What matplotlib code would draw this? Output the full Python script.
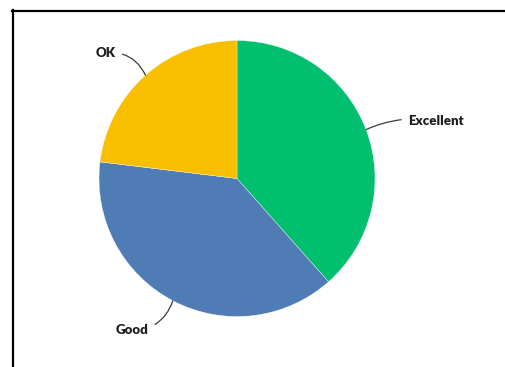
import matplotlib
matplotlib.use("Agg")
import matplotlib.pyplot as plt
from matplotlib.lines import Line2D
import numpy as np

# survey answers
labels = ["Excellent", "Good", "OK"]
counts = [5, 5, 3]
colors = ["#00BF6F", "#507CB6", "#F8BE00"]

W, H = 506, 367
fig = plt.figure(figsize=(W / 100, H / 100), dpi=100)

# pie axes: centre (237, 178.5) px, radius 138 px
cx, cy, r = 237, 178.5, 138
ax = fig.add_axes([(cx - r) / W, 1 - (cy + r) / H, 2 * r / W, 2 * r / H])
wedges, _ = ax.pie(counts, colors=colors, startangle=90, counterclock=False,
                   radius=1, wedgeprops=dict(edgecolor="white", linewidth=0.25))
ax.set_xlim(-1, 1)
ax.set_ylim(-1, 1)

# label position (text anchor), alignment, leader curvature
label_pos = {
    "Excellent": ((1.24, 0.42), "left", 0.15),
    "Good": ((-0.64, -1.10), "right", 0.35),
    "OK": ((-0.88, 0.91), "right", -0.35),
}

theta = 90.0
total = sum(counts)
for lab, c in zip(labels, counts):
    span = 360.0 * c / total
    mid = np.deg2rad(theta - span / 2)
    theta -= span
    edge = (np.cos(mid), np.sin(mid))
    (tx, ty), ha, rad = label_pos[lab]
    ax.annotate(lab, xy=edge, xytext=(tx, ty), ha=ha, va="center",
                fontsize=9.5, fontweight="heavy", family="Lato", color="#1e1e1e",
                annotation_clip=False,
                arrowprops=dict(arrowstyle="-", color="#3c3c3c", lw=0.9,
                                shrinkA=3, shrinkB=0,
                                connectionstyle=f"arc3,rad={rad}"))

# frame lines along top and left
fig.add_artist(Line2D([12 / W, 1], [1 - 11 / H, 1 - 11 / H], color="black", lw=1.6))
fig.add_artist(Line2D([13 / W, 13 / W], [0, 1 - 10 / H], color="black", lw=1.6))

fig.savefig("out.png", dpi=100)
